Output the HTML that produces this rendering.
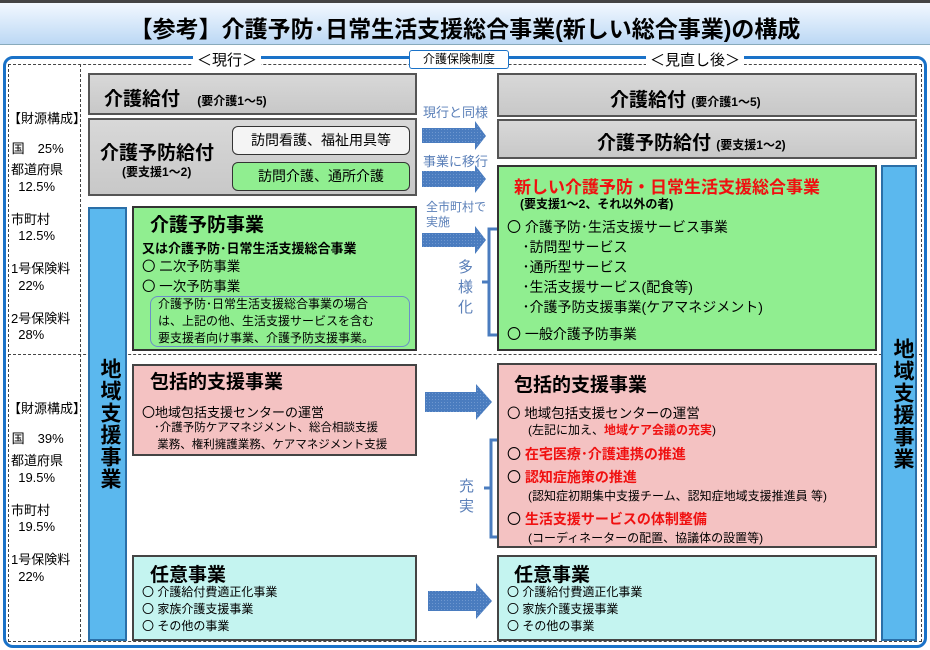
<!DOCTYPE html>
<html><head><meta charset="utf-8"><style>
*{margin:0;padding:0;box-sizing:border-box}
body{width:930px;height:650px;position:relative;background:#fff;font-family:"Liberation Sans","Noto Sans CJK JP",sans-serif;overflow:hidden;color:#000}
.a{position:absolute}
.t{position:absolute;white-space:nowrap}
.gray{background:linear-gradient(#d8d8d8,#c8c8c8);border:2px solid #555}
.grn{background:#90ee90;border:2px solid #333}
.pink{background:#f4c2c2;border:2px solid #444}
.cyan{background:#c4f4f0;border:2px solid #444}
.blue{background:#5bb8ee;border:2px solid #2a6fa8}
.b{font-weight:bold}
.red{color:#f01010;font-weight:bold}
.lb{color:#5a7fb8}
.v{writing-mode:vertical-rl;font-weight:bold;font-size:21px;letter-spacing:1px}
</style></head><body>
<div class="a" style="left:0;top:0;width:930px;height:3px;background:#444"></div>
<div class="a" style="left:0;top:3px;width:930px;height:42px;background:linear-gradient(#f2f8ff,#bcd8f4);border-bottom:1px solid #8ab"></div>
<div class="t b" style="left:0;width:930px;top:10px;text-align:center;font-size:23px">【参考】介護予防･日常生活支援総合事業(新しい総合事業)の構成</div>

<div class="a" style="left:3px;top:56px;width:924px;height:592px;border:3px solid #1a72c8;border-radius:10px"></div>
<div class="a" style="left:8px;top:64px;width:914px;height:578px;border:1px dashed #444"></div>
<div class="a" style="left:80px;top:64px;width:0;height:578px;border-left:1px dashed #444"></div>
<div class="a" style="left:8px;top:354px;width:914px;height:0;border-top:1px dashed #444"></div>

<div class="t" style="left:193px;top:49px;background:#fff;font-size:15px;padding:0 4px">＜現行＞</div>
<div class="t" style="left:409px;top:50px;width:100px;height:19px;background:#fff;border:1px solid #1a72c8;border-radius:3px;font-size:12px;text-align:center;line-height:17px">介護保険制度</div>
<div class="t" style="left:646px;top:49px;background:#fff;font-size:15px;padding:0 4px">＜見直し後＞</div>

<div class="t" style="left:8px;top:104px;font-size:13px;line-height:30px">【財源構成】<br>&nbsp;国　25%</div>
<div class="t" style="left:11px;top:162px;font-size:13px;line-height:16.5px">都道府県<br>&nbsp;&nbsp;12.5%<br><br>市町村<br>&nbsp;&nbsp;12.5%<br><br>1号保険料<br>&nbsp;&nbsp;22%<br><br>2号保険料<br>&nbsp;&nbsp;28%</div>
<div class="t" style="left:8px;top:394px;font-size:13px;line-height:30px">【財源構成】<br>&nbsp;国　39%</div>
<div class="t" style="left:11px;top:453px;font-size:13px;line-height:16.5px">都道府県<br>&nbsp;&nbsp;19.5%<br><br>市町村<br>&nbsp;&nbsp;19.5%<br><br>1号保険料<br>&nbsp;&nbsp;22%</div>

<div class="a gray" style="left:88px;top:73px;width:329px;height:42px"></div>
<div class="t b" style="left:104px;top:84px;font-size:19px">介護給付 <span style="font-size:12px">　(要介護1～5)</span></div>
<div class="a gray" style="left:88px;top:118px;width:329px;height:78px"></div>
<div class="t b" style="left:100px;top:138px;font-size:19px">介護予防給付</div>
<div class="t b" style="left:122px;top:163px;font-size:12px">(要支援1～2)</div>
<div class="a" style="left:232px;top:126px;width:178px;height:29px;background:#f4f4f4;border:1.5px solid #333;border-radius:6px;font-size:14px;text-align:center;line-height:26px">訪問看護、福祉用具等</div>
<div class="a" style="left:232px;top:162px;width:178px;height:29px;background:#90ee90;border:1.5px solid #333;border-radius:6px;font-size:14px;text-align:center;line-height:26px">訪問介護、通所介護</div>

<div class="a blue" style="left:88px;top:207px;width:39px;height:434px"></div>
<div class="t v" style="left:94px;top:358px">地域支援事業</div>

<div class="a grn" style="left:132px;top:206px;width:285px;height:145px"></div>
<div class="t b" style="left:150px;top:210px;font-size:19px">介護予防事業</div>
<div class="t b" style="left:142px;top:238px;font-size:13px">又は介護予防･日常生活支援総合事業</div>
<div class="t" style="left:142px;top:257px;font-size:13.5px;line-height:20px">〇 二次予防事業<br>〇 一次予防事業</div>
<div class="a" style="left:150px;top:296px;width:260px;height:51px;border:1px solid #6b8fc8;border-radius:8px"></div>
<div class="t" style="left:158px;top:296px;font-size:12px;line-height:17px">介護予防･日常生活支援総合事業の場合<br>は、上記の他、生活支援サービスを含む<br>要支援者向け事業、介護予防支援事業。</div>

<div class="a pink" style="left:132px;top:364px;width:285px;height:92px"></div>
<div class="t b" style="left:150px;top:367px;font-size:19px">包括的支援事業</div>
<div class="t" style="left:142px;top:402px;font-size:13px">〇地域包括支援センターの運営</div>
<div class="t" style="left:154px;top:420px;font-size:11.5px;line-height:17px">･介護予防ケアマネジメント、総合相談支援<br>&nbsp;業務、権利擁護業務、ケアマネジメント支援</div>

<div class="a cyan" style="left:132px;top:555px;width:285px;height:86px"></div>
<div class="t b" style="left:150px;top:560px;font-size:19px">任意事業</div>
<div class="t" style="left:142px;top:584px;font-size:12px;line-height:17px">〇 介護給付費適正化事業<br>〇 家族介護支援事業<br>〇 その他の事業</div>

<svg class="a" style="left:0;top:0" width="930" height="650">
<defs><pattern id="p" width="3" height="3" patternUnits="userSpaceOnUse"><rect width="3" height="3" fill="#4a7cbf"/><rect width="1" height="1" fill="#6e97cf"/></pattern></defs>
<g fill="url(#p)">
<polygon points="422,128 475,128 475,121 486,136 475,150 475,143 422,143"/>
<polygon points="422,171 475,171 475,165 486,179 475,193 475,187 422,187"/>
<polygon points="422,233 475,233 475,226 486,240 475,254 475,247 422,247"/>
<polygon points="425,392 476,392 476,384 492,402 476,420 476,412 425,412"/>
<polygon points="428,591 476,591 476,583 492,601 476,619 476,611 428,611"/>
</g>
<g fill="none" stroke="#4a7cbf" stroke-width="3">
<path d="M499,229 H489 V335 H499 M489,282 H482"/>
<path d="M499,440 H491 V537 H499 M491,488 H484"/>
</g>
</svg>
<div class="t lb" style="left:423px;top:102px;font-size:13px">現行と同様</div>
<div class="t lb" style="left:423px;top:151px;font-size:13px">事業に移行</div>
<div class="t lb" style="left:426px;top:200px;font-size:12px;line-height:15px">全市町村で<br>実施</div>
<div class="t lb" style="left:458px;top:258px;font-size:15px;line-height:20px">多<br>様<br>化</div>
<div class="t lb" style="left:459px;top:477px;font-size:15px;line-height:20px">充<br>実</div>

<div class="a gray" style="left:497px;top:73px;width:420px;height:44px"></div>
<div class="t b" style="left:610px;top:85px;font-size:19px">介護給付 <span style="font-size:12px">(要介護1～5)</span></div>
<div class="a gray" style="left:497px;top:119px;width:420px;height:40px"></div>
<div class="t b" style="left:597px;top:128px;font-size:19px">介護予防給付 <span style="font-size:12px">(要支援1～2)</span></div>

<div class="a grn" style="left:497px;top:165px;width:380px;height:186px"></div>
<div class="t red" style="left:514px;top:173px;font-size:17px">新しい介護予防・日常生活支援総合事業</div>
<div class="t b" style="left:520px;top:195px;font-size:12px">(要支援1～2、それ以外の者)</div>
<div class="t" style="left:507px;top:217px;font-size:14px;line-height:20px">〇 介護予防･生活支援サービス事業<br>&nbsp;&nbsp;&nbsp;&nbsp;･訪問型サービス<br>&nbsp;&nbsp;&nbsp;&nbsp;･通所型サービス<br>&nbsp;&nbsp;&nbsp;&nbsp;･生活支援サービス(配食等)<br>&nbsp;&nbsp;&nbsp;&nbsp;･介護予防支援事業(ケアマネジメント)</div>
<div class="t" style="left:507px;top:324px;font-size:14px">〇 一般介護予防事業</div>

<div class="a blue" style="left:881px;top:165px;width:36px;height:476px"></div>
<div class="t v" style="left:887px;top:338px">地域支援事業</div>

<div class="a pink" style="left:497px;top:363px;width:380px;height:185px"></div>
<div class="t b" style="left:514px;top:370px;font-size:19px">包括的支援事業</div>
<div class="t" style="left:507px;top:402px;font-size:13.5px">〇 地域包括支援センターの運営</div>
<div class="t" style="left:528px;top:421px;font-size:12px">(左記に加え、<span class="red">地域ケア会議の充実</span>)</div>
<div class="t" style="left:507px;top:444px;font-size:14px">〇 <span class="red">在宅医療･介護連携の推進</span></div>
<div class="t" style="left:507px;top:467px;font-size:14px">〇 <span class="red">認知症施策の推進</span></div>
<div class="t" style="left:528px;top:487px;font-size:12px">(認知症初期集中支援チーム、認知症地域支援推進員 等)</div>
<div class="t" style="left:507px;top:509px;font-size:14px">〇 <span class="red">生活支援サービスの体制整備</span></div>
<div class="t" style="left:528px;top:529px;font-size:12px">(コーディネーターの配置、協議体の設置等)</div>

<div class="a cyan" style="left:497px;top:555px;width:380px;height:86px"></div>
<div class="t b" style="left:514px;top:560px;font-size:19px">任意事業</div>
<div class="t" style="left:507px;top:584px;font-size:12px;line-height:17px">〇 介護給付費適正化事業<br>〇 家族介護支援事業<br>〇 その他の事業</div>
</body></html>
